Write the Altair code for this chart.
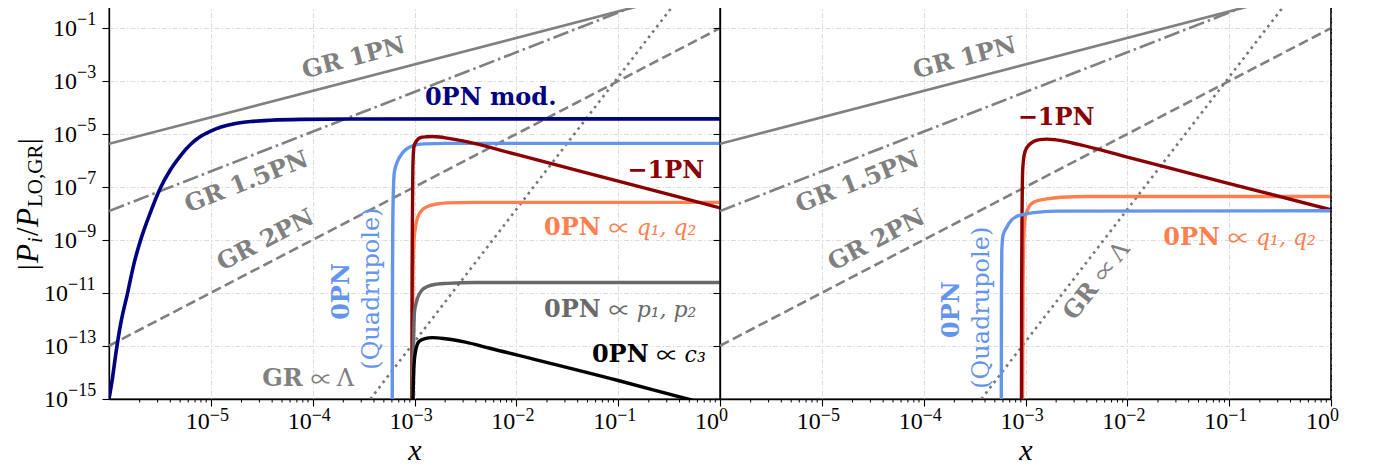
import altair as alt
import pandas as pd

W, H = 611, 397
TICKFONT = "Liberation Serif"
LBLFONT = "DejaVu Serif"
SYMFONT = "Noto Sans CJK JP"

GRAY = "#808080"
NAVY = "#000080"
DARKRED = "#8b0000"
BLUE = "#6495ed"
CORAL = "#ff7f50"
DIMGRAY = "#696969"

# ---------------- axis ticks ----------------
X_TICKS = [1e-5, 1e-4, 1e-3, 1e-2, 1e-1, 1e0]
X_EXPS = ["−5", "−4", "−3", "−2", "−1", "0"]
Y_TICKS = [1e-15, 1e-13, 1e-11, 1e-9, 1e-7, 1e-5, 1e-3, 1e-1]
Y_EXPS = ["−15", "−13", "−11", "−9", "−7", "−5", "−3", "−1"]
MINOR_X = [m * 10.0 ** k for k in range(-6, 0) for m in range(2, 10)]

# ---------------- GR reference lines (both panels) ----------------
GR1_X = [1e-6, 1.0]
GR1_Y = [4.4e-6, 4.4]
GR15_X = [1e-6, 1.0]
GR15_Y = [1.26e-8, 12.6]
GR2_X = [1e-6, 1.0]
GR2_Y = [1.03e-13, 0.103]
LAM_X = [3.69e-4, 0.369]
LAM_Y = [1e-15, 1.0]

# ---------------- left panel curves ----------------
NAVY_X = [1.0e-6, 1.087e-6, 1.164e-6, 1.303e-6, 1.518e-6, 1.75e-6, 2.05e-6, 2.57e-6, 3.22e-6,
          4.04e-6, 5.07e-6, 6.34e-6, 7.96e-6, 9.98e-6, 1.26e-5, 1.75e-5, 2.46e-5, 3.86e-5,
          7.6e-5, 2.36e-4, 1.0]
NAVY_Y = [1e-15, 7.0e-15, 4.8e-14, 7.0e-13, 9.6e-12, 1.2e-10, 1.05e-9, 1.21e-8, 1.0e-7,
          4.8e-7, 1.62e-6, 4.2e-6, 8.4e-6, 1.33e-5, 1.89e-5, 2.56e-5, 3.04e-5, 3.41e-5,
          3.69e-5, 3.82e-5, 3.85e-5]

QL_X = [6.04e-4, 6.07e-4, 6.12e-4, 6.19e-4, 6.30e-4, 6.49e-4, 6.79e-4, 7.60e-4, 8.51e-4,
        9.89e-4, 1.23e-3, 2.0e-3, 1.0]
QL_Y = [1e-16, 1e-11, 3.16e-9, 5.0e-8, 2.95e-7, 5.6e-7, 9.3e-7, 1.95e-6, 2.95e-6,
        3.8e-6, 4.35e-6, 4.55e-6, 4.57e-6]

RL_X = [9.42e-4, 9.46e-4, 9.55e-4, 9.64e-4, 9.89e-4, 1.047e-3, 1.148e-3, 1.318e-3, 1.5e-3,
        1.78e-3, 2.09e-3, 3.16e-3, 1e-2, 0.1, 1.0]
RL_Y = [1e-16, 1e-11, 1e-8, 6.3e-7, 3.55e-6, 5.6e-6, 7.6e-6, 8.1e-6, 8.3e-6,
        7.9e-6, 7.2e-6, 5.4e-6, 1.74e-6, 1.7e-7, 1.66e-8]

CL_X = [9.5e-4, 9.66e-4, 9.89e-4, 1.023e-3, 1.067e-3, 1.175e-3, 1.34e-3, 1.66e-3, 2.09e-3,
        3.98e-3, 1.0]
CL_Y = [1e-16, 3.16e-11, 1e-9, 3.16e-9, 6.8e-9, 1.32e-8, 1.86e-8, 2.34e-8, 2.57e-8,
        2.69e-8, 2.69e-8]

PL_X = [9.5e-4, 9.59e-4, 9.75e-4, 1.0e-3, 1.035e-3, 1.067e-3, 1.175e-3, 1.34e-3, 1.66e-3,
        2.09e-3, 3.98e-3, 1.0]
PL_Y = [1e-16, 1e-14, 1.1e-13, 2.0e-12, 4.0e-12, 6.3e-12, 1.26e-11, 1.78e-11, 2.19e-11,
        2.34e-11, 2.51e-11, 2.51e-11]

KL_X = [9.55e-4, 9.73e-4, 9.89e-4, 1.023e-3, 1.107e-3, 1.26e-3, 1.5e-3, 2.0e-3, 3.16e-3,
        5.6e-3, 0.1, 0.48, 1.0]
KL_Y = [1e-16, 3.16e-15, 1.95e-14, 6.3e-14, 1.48e-13, 1.9e-13, 2.09e-13, 1.9e-13, 1.41e-13,
        8.1e-14, 5.0e-15, 1.0e-15, 4.8e-16]

# ---------------- right panel curves ----------------
RR_X = [9.12e-4, 9.16e-4, 9.25e-4, 9.4e-4, 9.89e-4, 1.096e-3, 1.2e-3, 1.38e-3, 1.62e-3,
        2.0e-3, 3.47e-3, 1e-2, 0.1, 1.0]
RR_Y = [1e-16, 1e-11, 1e-8, 5.25e-7, 2.24e-6, 4.17e-6, 5.37e-6, 6.3e-6, 6.6e-6,
        6.17e-6, 3.98e-6, 1.38e-6, 1.38e-7, 1.41e-8]

QR_X = [5.78e-4, 5.81e-4, 5.85e-4, 6.03e-4, 6.46e-4, 7.24e-4, 8.13e-4, 1.0e-3, 1.2e-3,
        2.0e-3, 1.0]
QR_Y = [1e-16, 1e-11, 3.98e-10, 1.58e-9, 2.82e-9, 5.6e-9, 7.8e-9, 9.8e-9, 1.1e-8,
        1.26e-8, 1.29e-8]

CR_X = [9.33e-4, 9.44e-4, 9.59e-4, 9.89e-4, 1.047e-3, 1.11e-3, 1.26e-3, 1.62e-3, 2.24e-3,
        3.98e-3, 1.0]
CR_Y = [1e-16, 1e-11, 6.3e-10, 6.8e-9, 1.41e-8, 2.14e-8, 2.95e-8, 3.63e-8, 4.17e-8,
        4.47e-8, 4.47e-8]

# ---------------- annotation anchors (data coordinates) ----------------
GR_LABELS = [("GR 1PN", 2.53e-4, 7.4e-3, 345.4),
             ("GR 1.5PN", 2.25e-5, 1.51e-7, 338.7),
             ("GR 2PN", 3.46e-5, 9.7e-10, 332.5)]

XS = alt.Scale(type="log", domain=[1e-6, 1.0], nice=False)
YS = alt.Scale(type="log", domain=[1e-15, 1.0], nice=False)

XAX = alt.Axis(values=X_TICKS, labels=False, tickSize=7, tickWidth=1.1, tickColor="black",
               domainColor="black", domainWidth=1.3, grid=True, gridColor="#dcdcdc",
               gridDash=[5, 2, 1.5, 2], gridWidth=1, title="x", titleFont=TICKFONT,
               titleFontSize=30, titleFontStyle="italic", titleFontWeight="normal",
               titleColor="black", titleBaseline="alphabetic", titleY=60)
YAX = alt.Axis(values=Y_TICKS, labels=False, tickSize=7, tickWidth=1.1, tickColor="black",
               domainColor="black", domainWidth=1.3, grid=True, gridColor="#dcdcdc",
               gridDash=[5, 2, 1.5, 2], gridWidth=1, title=None)


def ex():
    return alt.X("x:Q", scale=XS, axis=XAX)


def ey():
    return alt.Y("y:Q", scale=YS, axis=YAX)


def line(xs, ys, color, width, dash=None):
    kw = dict(color=color, strokeWidth=width, clip=True, interpolate="monotone")
    if dash:
        kw["strokeDash"] = dash
    return alt.Chart(pd.DataFrame({"x": xs, "y": ys})).mark_line(**kw).encode(x=ex(), y=ey())


def label(text, x, y, color, size=24, angle=0, weight="bold", style="normal",
          font=LBLFONT, align="center", baseline="middle", dx=0, dy=0):
    kw = dict(color=color, fontSize=size, fontWeight=weight, fontStyle=style, font=font,
              align=align, baseline=baseline, dx=dx, dy=dy)
    if angle:
        kw["angle"] = angle
    return alt.Chart(pd.DataFrame({"x": [x], "y": [y], "t": [text]})).mark_text(**kw).encode(
        x=ex(), y=ey(), text="t:N")


def prop_label(head, tail, x, y, color, angle=0, tail_dx=33, tail_style="italic",
               tail_font=LBLFONT, tail_size=22):
    return [label(head, x, y, color, angle=angle, align="right", dx=-3),
            label("∝", x, y, color, size=22, angle=angle, weight="normal", font=SYMFONT,
                  align="left", dx=5, dy=1),
            label(tail, x, y, color, size=tail_size, angle=angle, weight="normal",
                  style=tail_style, font=tail_font, align="left", dx=tail_dx)]


def gr_layers():
    lay = [line(GR1_X, GR1_Y, GRAY, 2.6),
           line(GR15_X, GR15_Y, GRAY, 2.6, [16, 4, 2.5, 4]),
           line(GR2_X, GR2_Y, GRAY, 2.6, [10, 4.5]),
           line(LAM_X, LAM_Y, "#777777", 2.6, [2.6, 4.2])]
    for t, x, y, a in GR_LABELS:
        lay.append(label(t, x, y, GRAY, angle=a))
    return lay


def frame_layer():
    return alt.Chart(pd.DataFrame({"k": [0]})).mark_rule(color="black", strokeWidth=1.3).encode(
        x=alt.value(W), y=alt.value(0), y2=alt.value(H))


def xtick_layers():
    d = pd.DataFrame({"x": X_TICKS, "e": X_EXPS})
    base = alt.Chart(d).mark_text(font=TICKFONT, fontSize=24, align="right",
                                  baseline="alphabetic", dx=-1, color="black", text="10")
    expo = alt.Chart(d).mark_text(font=TICKFONT, fontSize=18, align="left",
                                  baseline="alphabetic", dx=-1, color="black")
    minor = alt.Chart(pd.DataFrame({"x": MINOR_X})).mark_rule(color="black", strokeWidth=1)
    return [base.encode(x=ex(), y=alt.value(H + 30)),
            expo.encode(x=ex(), y=alt.value(H + 22), text="e:N"),
            minor.encode(x=ex(), y=alt.value(H), y2=alt.value(H + 3.5))]


def ytick_layers():
    d = pd.DataFrame({"y": Y_TICKS, "e": Y_EXPS})
    out = []
    for cond, pos in (("length(datum.e) <= 2", -32), ("length(datum.e) > 2", -41)):
        c = alt.Chart(d).transform_filter(cond)
        out.append(c.mark_text(font=TICKFONT, fontSize=24, align="right", baseline="middle",
                               color="black", text="10", dy=1)
                   .encode(x=alt.value(pos), y=ey()))
        out.append(c.mark_text(font=TICKFONT, fontSize=18, align="left",
                               baseline="alphabetic", color="black", dy=-3)
                   .encode(x=alt.value(pos), y=ey(), text="e:N"))
    return out


def ytitle_layers():
    pieces = [("|", 268, 28, "normal", -72),
              ("P", 261, 31, "italic", -71),
              ("i", 241, 21, "italic", -67),
              ("/", 234, 31, "normal", -71),
              ("P", 225, 31, "italic", -71),
              ("LO,GR", 205, 21, "normal", -67),
              ("|", 142, 28, "normal", -72)]
    out = []
    dummy = pd.DataFrame({"k": [0]})
    for t, yy, s, st, xb in pieces:
        out.append(alt.Chart(dummy).mark_text(text=t, font=TICKFONT, fontSize=s, fontStyle=st,
                                              angle=270, align="left", baseline="alphabetic",
                                              color="black")
                   .encode(x=alt.value(xb), y=alt.value(yy)))
    # invisible anchor fixing the left edge of the drawing
    out.append(alt.Chart(dummy).mark_rule(opacity=0)
               .encode(x=alt.value(-100), y=alt.value(0), y2=alt.value(5)))
    return out


left_layers = gr_layers() + [
    line(NAVY_X, NAVY_Y, NAVY, 3.6),
    line(QL_X, QL_Y, BLUE, 3.4),
    line(CL_X, CL_Y, CORAL, 3.4),
    line(RL_X, RL_Y, DARKRED, 3.4),
    line(PL_X, PL_Y, DIMGRAY, 3.4),
    line(KL_X, KL_Y, "black", 3.4),
    label("0PN mod.", 5.6e-3, 2.26e-4, NAVY),
    label("−1PN", 0.293, 4.27e-7, DARKRED),
    label("0PN", 1.93e-4, 1.15e-11, BLUE, angle=270),
    label("(Quadrupole)", 3.8e-4, 1.48e-11, BLUE, size=24, angle=270, weight="normal"),
] + prop_label("GR", "Λ", 8.55e-5, 5.9e-15, GRAY, tail_dx=31, tail_style="normal",
               tail_size=24) \
  + prop_label("0PN", "q₁, q₂", 7.2e-2, 3.0e-9, CORAL) \
  + prop_label("0PN", "p₁, p₂", 7.2e-2, 2.4e-12, DIMGRAY) \
  + prop_label("0PN", "c₃", 0.213, 4.7e-14, "black") \
  + xtick_layers() + ytick_layers() + ytitle_layers()

right_layers = gr_layers() + [
    line(CR_X, CR_Y, CORAL, 3.4),
    line(RR_X, RR_Y, DARKRED, 3.4),
    line(QR_X, QR_Y, BLUE, 3.4),
    label("−1PN", 2.0e-3, 3.98e-5, DARKRED),
    label("0PN", 1.88e-4, 2.4e-12, BLUE, angle=270),
    label("(Quadrupole)", 3.78e-4, 2.8e-12, BLUE, size=24, angle=270, weight="normal"),
] + prop_label("GR", "Λ", 4.87e-3, 2.4e-11, GRAY, angle=308, tail_dx=31,
               tail_style="normal", tail_size=24) \
  + prop_label("0PN", "q₁, q₂", 8.7e-2, 1.26e-9, CORAL) + xtick_layers() + [frame_layer()]

left = alt.layer(*left_layers).properties(width=W, height=H)
right = alt.layer(*right_layers).properties(width=W, height=H)

chart = alt.hconcat(left, right, spacing=0, bounds="flush").properties(
    padding={"left": 0, "top": -8, "right": 5, "bottom": 0}
).configure_view(stroke="black", strokeWidth=1.3)

chart.save("out.html", embed_options={"renderer": "svg", "actions": False})
